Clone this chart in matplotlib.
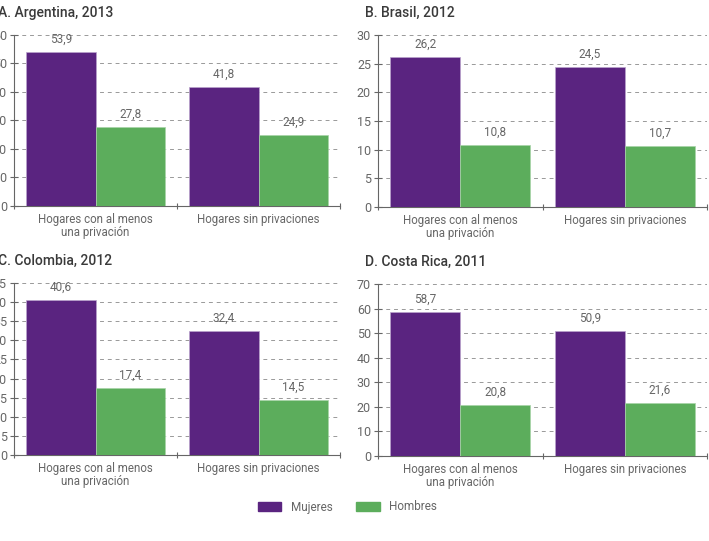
import matplotlib
matplotlib.use('Agg')
import matplotlib.pyplot as plt
from matplotlib.patches import Patch

plt.rcParams['font.family'] = ['Roboto', 'DejaVu Sans']

categories = ['Hogares con al menos\nuna privación', 'Hogares sin privaciones']
titles = ['A. Argentina, 2013', 'B. Brasil, 2012', 'C. Colombia, 2012', 'D. Costa Rica, 2011']
mujeres = [[53.9, 41.8], [26.2, 24.5], [40.6, 32.4], [58.7, 50.9]]
hombres = [[27.8, 24.9], [10.8, 10.7], [17.4, 14.5], [20.8, 21.6]]
ymax = [60, 30, 45, 70]
ystep = [10, 5, 5, 10]

purple = '#5a2480'
green = '#5cad5c'
gray = '#666666'

fig = plt.figure(figsize=(7.09, 5.41), dpi=100)

# axes boxes in pixels: left, top(y px), right, bottom(y px)
boxes = [(14, 35, 340, 206), (378, 35, 707, 207),
         (14, 283, 340, 455), (378, 284, 707, 456)]
W, H = 709, 541

def fmt(v):
    return ('%.1f' % v).replace('.', ',')

for i in range(4):
    l, t, r, b = boxes[i]
    ax = fig.add_axes([l / W, 1 - b / H, (r - l) / W, (b - t) / H])
    x = [0, 1]
    w = 0.425
    b1 = ax.bar([v - w / 2 for v in x], mujeres[i], w, color=purple,
                edgecolor='#b9a3cc', linewidth=0.5, zorder=3)
    b2 = ax.bar([v + w / 2 for v in x], hombres[i], w, color=green,
                edgecolor='#a8d4a8', linewidth=0.5, zorder=3)
    for bars in (b1, b2):
        for rect in bars:
            h = rect.get_height()
            ax.annotate(fmt(h), (rect.get_x() + rect.get_width() / 2, h),
                        xytext=(0, 4.5), textcoords='offset points',
                        ha='center', va='bottom', fontsize=8.5, color=gray)
    ax.set_xlim(-0.5, 1.5)
    ax.set_ylim(0, ymax[i])
    ax.set_yticks(range(0, ymax[i] + 1, ystep[i]))
    ax.set_xticks([-0.5, 0.5, 1.5])
    ax.set_xticklabels([])
    ax.set_xticks(x, minor=True)
    ax.set_xticklabels(categories, minor=True, fontsize=8.3, color=gray, linespacing=1.05)
    ax.tick_params(axis='x', which='minor', length=0, pad=5)
    ax.tick_params(axis='x', which='major', direction='inout', length=5, color=gray)
    ax.tick_params(axis='y', direction='inout', length=6, color=gray,
                   labelsize=9, labelcolor=gray, pad=2)
    ax.grid(axis='y', linestyle=(0, (4, 4)), color='#999999', linewidth=0.7, zorder=0)
    for s in ('top', 'right'):
        ax.spines[s].set_visible(False)
    for s in ('left', 'bottom'):
        ax.spines[s].set_color(gray)
        ax.spines[s].set_linewidth(0.8)
    ax.set_title(titles[i], loc='left', fontsize=10, color='#3a3a3a',
                 fontweight='medium', x=-0.05 if i in (0, 2) else -0.04, pad=13)

handles = [Patch(color=purple, label='Mujeres'), Patch(color=green, label='Hombres')]
fig.legend(handles=handles, loc='center', bbox_to_anchor=(0.49, 1 - 507 / H), ncol=2,
           frameon=False, fontsize=8.5, labelcolor=gray, handlelength=2.0,
           handleheight=0.8, columnspacing=2.0)

fig.savefig('out.png', dpi=100)
